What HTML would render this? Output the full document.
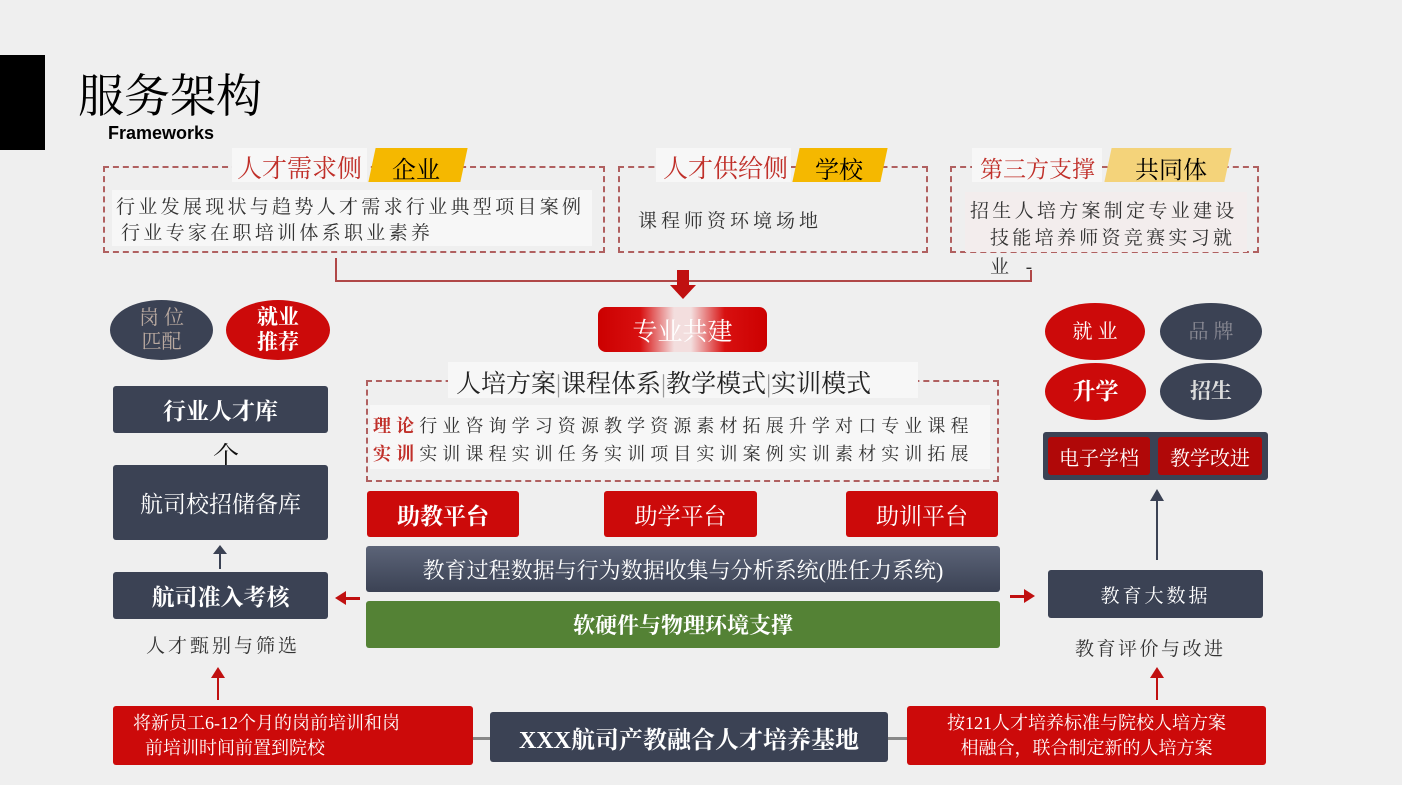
<!DOCTYPE html>
<html><head><meta charset="utf-8"><style>
*{margin:0;padding:0;box-sizing:border-box}
body{width:1402px;height:785px;background:#efefef;position:relative;overflow:hidden;font-family:"Liberation Serif","Noto Serif CJK SC","Noto Sans CJK SC",serif}
.a{position:absolute}
.dash{position:absolute;border:2px dashed #b06060}
.t{position:absolute;white-space:nowrap;color:#333}
.dk{position:absolute;background:#3b4254;color:#fff;display:flex;align-items:center;justify-content:center;border-radius:3px}
.rd{position:absolute;background:#cc0a0a;color:#fff;display:flex;align-items:center;justify-content:center;border-radius:3px}
.el{position:absolute;border-radius:50%;display:flex;align-items:center;justify-content:center;text-align:center;line-height:1.2}
.yl{position:absolute;background:#f5b800;transform:skewX(-12deg)}
.lbl{position:absolute;background:#f7f7f7;white-space:nowrap}
</style></head><body>
<div class="a" style="left:0;top:55px;width:45px;height:95px;background:#000"></div>
<div class="t" style="left:78px;top:60px;font-size:46px;color:#000">服务架构</div>
<div class="t" style="left:108px;top:123px;font-size:18px;font-weight:bold;color:#000;font-family:'Liberation Sans',sans-serif">Frameworks</div>

<!-- box 1 -->
<div class="dash" style="left:103px;top:166px;width:502px;height:87px"></div>
<div class="lbl" style="left:232px;top:148px;width:135px;height:34px"></div>
<div class="t" style="left:237px;top:149px;font-size:25px;color:#c0302a">人才需求侧</div>
<div class="yl" style="left:372px;top:148px;width:92px;height:34px"></div>
<div class="t" style="left:392px;top:150px;font-size:24px;color:#000">企业</div>
<div class="lbl" style="left:112px;top:190px;width:480px;height:56px"></div>
<div class="t" style="left:116px;top:192px;font-size:19px;letter-spacing:3.3px">行业发展现状与趋势人才需求行业典型项目案例</div>
<div class="t" style="left:121px;top:218px;font-size:19px;letter-spacing:3.3px">行业专家在职培训体系职业素养</div>

<!-- box 2 -->
<div class="dash" style="left:618px;top:166px;width:310px;height:87px"></div>
<div class="lbl" style="left:656px;top:148px;width:135px;height:34px"></div>
<div class="t" style="left:663px;top:149px;font-size:25px;color:#c0302a">人才供给侧</div>
<div class="yl" style="left:796px;top:148px;width:88px;height:34px"></div>
<div class="t" style="left:815px;top:150px;font-size:24px;color:#000">学校</div>
<div class="t" style="left:638px;top:206px;font-size:19px;letter-spacing:4px">课程师资环境场地</div>

<!-- box 3 -->
<div class="dash" style="left:950px;top:166px;width:309px;height:87px"></div>
<div class="lbl" style="left:972px;top:148px;width:130px;height:34px"></div>
<div class="yl" style="left:1108px;top:148px;width:120px;height:34px;background:#f4d37a"></div>
<div class="t" style="left:980px;top:151px;font-size:23px;color:#c0302a">第三方支撑</div>
<div class="t" style="left:1135px;top:150px;font-size:24px;color:#000">共同体</div>
<div class="lbl" style="left:965px;top:192px;width:282px;height:60px;background:#f3eded"></div>
<div class="t" style="left:970px;top:196px;font-size:19px;letter-spacing:3.3px">招生人培方案制定专业建设</div>
<div class="t" style="left:990px;top:223px;font-size:19px;letter-spacing:3.3px">技能培养师资竞赛实习就</div>
<div class="t" style="left:990px;top:252px;font-size:19px;letter-spacing:6px">业 -</div>

<!-- connector -->
<div class="a" style="left:335px;top:258px;width:2px;height:24px;background:#b04848"></div>
<div class="a" style="left:335px;top:280px;width:697px;height:2px;background:#b04848"></div>
<div class="a" style="left:1030px;top:270px;width:2px;height:12px;background:#b04848"></div>
<div class="a" style="left:677px;top:270px;width:12px;height:16px;background:#c01010"></div>
<div class="a" style="left:670px;top:285px;width:0;height:0;border-left:13px solid transparent;border-right:13px solid transparent;border-top:14px solid #c01010"></div>

<div class="rd" style="left:598px;top:307px;width:169px;height:45px;border-radius:8px;font-size:25px;background:linear-gradient(90deg,#c00 0,#d81010 25%,#f3dede 45%,#f3dede 55%,#d81010 75%,#c00 100%)">专业共建</div>

<div class="dash" style="left:366px;top:380px;width:633px;height:102px"></div>
<div class="lbl" style="left:448px;top:362px;width:470px;height:36px"></div>
<div class="t" style="left:456px;top:364px;font-size:25px;color:#222">人培方案<span style="color:#999">|</span>课程体系<span style="color:#999">|</span>教学模式<span style="color:#999">|</span>实训模式</div>
<div class="lbl" style="left:370px;top:405px;width:620px;height:64px"></div>
<div class="t" style="left:373px;top:412px;font-size:18px;letter-spacing:5.1px"><b style="color:#c0302a">理论</b>行业咨询学习资源教学资源素材拓展升学对口专业课程</div>
<div class="t" style="left:373px;top:440px;font-size:18px;letter-spacing:5.1px"><b style="color:#c0302a">实训</b>实训课程实训任务实训项目实训案例实训素材实训拓展</div>

<div class="rd" style="left:367px;top:491px;width:152px;height:46px;font-size:23px;font-weight:bold">助教平台</div>
<div class="rd" style="left:604px;top:491px;width:153px;height:46px;font-size:23px">助学平台</div>
<div class="rd" style="left:846px;top:491px;width:152px;height:46px;font-size:23px">助训平台</div>
<div class="dk" style="left:366px;top:546px;width:634px;height:46px;font-size:22px;background:linear-gradient(180deg,#5c6478,#3b4254)">教育过程数据与行为数据收集与分析系统(胜任力系统)</div>
<div class="a" style="left:366px;top:601px;width:634px;height:47px;background:#548235;color:#fff;font-size:22px;font-weight:bold;display:flex;align-items:center;justify-content:center;border-radius:3px">软硬件与物理环境支撑</div>

<!-- left -->
<div class="el" style="left:110px;top:300px;width:103px;height:60px;background:#3b4254;color:#b9a9a0;font-size:20px">岗 位<br>匹配</div>
<div class="el" style="left:226px;top:300px;width:104px;height:60px;background:#cc0a0a;color:#fff;font-size:21px;font-weight:bold">就业<br>推荐</div>
<div class="dk" style="left:113px;top:386px;width:215px;height:47px;font-size:23px;font-weight:bold">行业人才库</div>
<div class="t" style="left:213px;top:436px;font-size:26px;color:#111">个</div>
<div class="dk" style="left:113px;top:465px;width:215px;height:75px;font-size:23px">航司校招储备库</div>
<div class="a" style="left:219px;top:552px;width:2px;height:17px;background:#3b4254"></div>
<div class="a" style="left:213px;top:545px;width:0;height:0;border-left:7px solid transparent;border-right:7px solid transparent;border-bottom:9px solid #3b4254"></div>
<div class="dk" style="left:113px;top:572px;width:215px;height:47px;font-size:23px;font-weight:bold">航司准入考核</div>
<div class="a" style="left:344px;top:597px;width:16px;height:3px;background:#c01010"></div>
<div class="a" style="left:335px;top:591px;width:0;height:0;border-top:7px solid transparent;border-bottom:7px solid transparent;border-right:11px solid #c01010"></div>
<div class="t" style="left:146px;top:631px;font-size:19px;letter-spacing:3px">人才甄别与筛选</div>
<div class="a" style="left:217px;top:676px;width:2px;height:24px;background:#c01010"></div>
<div class="a" style="left:211px;top:667px;width:0;height:0;border-left:7px solid transparent;border-right:7px solid transparent;border-bottom:11px solid #c01010"></div>

<!-- bottom -->
<div class="a" style="left:473px;top:737px;width:434px;height:3px;background:#888"></div>
<div class="rd" style="left:113px;top:706px;width:360px;height:59px;font-size:18px;line-height:25px;flex-direction:column;align-items:flex-start;padding-left:20px"><div>将新员工6-12个月的岗前培训和岗</div><div style="padding-left:12px">前培训时间前置到院校</div></div>
<div class="dk" style="left:490px;top:712px;width:398px;height:50px;font-size:24px;font-weight:bold">XXX航司产教融合人才培养基地</div>
<div class="rd" style="left:907px;top:706px;width:359px;height:59px;font-size:18px;line-height:25px;flex-direction:column"><div>按121人才培养标准与院校人培方案</div><div>相融合，联合制定新的人培方案</div></div>

<!-- right -->
<div class="el" style="left:1045px;top:303px;width:100px;height:57px;background:#cc0a0a;color:#fff;font-size:20px">就 业</div>
<div class="el" style="left:1160px;top:303px;width:102px;height:57px;background:#3b4254;color:#8a8a94;font-size:20px">品 牌</div>
<div class="el" style="left:1045px;top:363px;width:101px;height:57px;background:#cc0a0a;color:#fff;font-size:23px;font-weight:bold">升学</div>
<div class="el" style="left:1160px;top:363px;width:102px;height:57px;background:#3b4254;color:#ddd;font-size:21px;font-weight:bold">招生</div>
<div class="dk" style="left:1043px;top:432px;width:225px;height:48px"></div>
<div class="rd" style="left:1048px;top:437px;width:102px;height:38px;font-size:20px;background:#b00808">电子学档</div>
<div class="rd" style="left:1158px;top:437px;width:104px;height:38px;font-size:20px;background:#b00808">教学改进</div>
<div class="a" style="left:1156px;top:498px;width:2px;height:62px;background:#3b4254"></div>
<div class="a" style="left:1150px;top:489px;width:0;height:0;border-left:7px solid transparent;border-right:7px solid transparent;border-bottom:12px solid #3b4254"></div>
<div class="a" style="left:1010px;top:595px;width:16px;height:3px;background:#c01010"></div>
<div class="a" style="left:1024px;top:589px;width:0;height:0;border-top:7px solid transparent;border-bottom:7px solid transparent;border-left:11px solid #c01010"></div>
<div class="dk" style="left:1048px;top:570px;width:215px;height:48px;font-size:19px;letter-spacing:3px">教育大数据</div>
<div class="t" style="left:1075px;top:634px;font-size:19px;letter-spacing:2.5px">教育评价与改进</div>
<div class="a" style="left:1156px;top:676px;width:2px;height:24px;background:#c01010"></div>
<div class="a" style="left:1150px;top:667px;width:0;height:0;border-left:7px solid transparent;border-right:7px solid transparent;border-bottom:11px solid #c01010"></div>
</body></html>
